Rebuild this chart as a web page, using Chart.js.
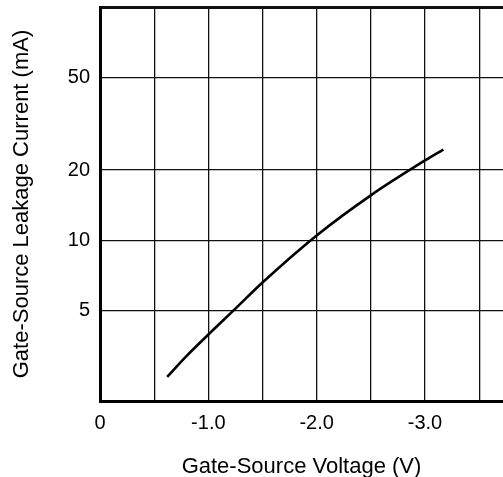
<!DOCTYPE html>
<html>
<head>
<meta charset="utf-8">
<script src="https://cdn.jsdelivr.net/npm/chart.js@4/dist/chart.umd.min.js"></script>
<style>
  html, body { margin: 0; padding: 0; background: #fff; overflow: hidden; }
  #wrap { width: 503px; height: 477px; }
</style>
</head>
<body>
<div id="wrap"><canvas id="leakChart"></canvas></div>
<script>
// gate-source voltage (V) and leakage current (mA)
const voltage = [-0.62, -0.8, -1.0, -1.25, -1.5, -2.0, -2.5, -3.0, -3.17];
const current = [2.6, 3.2, 3.95, 5.1, 6.6, 10.5, 15.6, 22.0, 24.5];

const xGridTicks = [0, -0.5, -1.0, -1.5, -2.0, -2.5, -3.0, -3.5];
const xLabelTicks = [0, -1.0, -2.0, -3.0];
const yGridTicks = [5, 10, 20, 50, 100];
const yLabelTicks = [5, 10, 20, 50];

const family = "'Liberation Sans', Arial, sans-serif";
const tickFont = { family, size: 20 };
const titleFont = { family, size: 22 };

new Chart(document.getElementById("leakChart"), {
  type: "line",
  data: {
    datasets: [
      {
        label: "Leakage",
        data: voltage.map((v, i) => ({ x: v, y: current[i] })),
        borderColor: "#000",
        borderWidth: 2.6,
        pointRadius: 0,
        cubicInterpolationMode: "monotone",
        fill: false,
      },
    ],
  },
  options: {
    responsive: true,
    maintainAspectRatio: false,
    animation: false,
    layout: { padding: { top: 7, right: 0, left: 0, bottom: 0 } },
    plugins: { legend: { display: false }, tooltip: { enabled: false } },
    scales: {
      x: {
        type: "linear",
        min: -3.72,
        max: 0,
        reverse: true,
        afterBuildTicks: s => { s.ticks = xGridTicks.map(v => ({ value: v })); },
        afterFit: s => {
          s.height = 76;
          s.paddingLeft = 0;
          s.paddingRight = 0;
        },
        ticks: {
          color: "#000",
          font: tickFont,
          padding: 10,
          maxRotation: 0,
          autoSkip: false,
          callback: v => {
            if (!xLabelTicks.includes(v)) return "";
            return v === 0 ? "0" : v.toFixed(1);
          },
        },
        grid: { color: "#111", lineWidth: 1.3, drawTicks: false },
        border: { color: "#000", width: 3 },
        title: {
          display: true,
          text: "Gate-Source Voltage (V)",
          color: "#000",
          font: titleFont,
          padding: { top: 0, bottom: -3 },
        },
      },
      y: {
        type: "logarithmic",
        min: 2.05,
        max: 100,
        afterBuildTicks: s => { s.ticks = yGridTicks.map(v => ({ value: v })); },
        afterFit: s => {
          s.width = 100;
          s.paddingTop = 0;
          s.paddingBottom = 0;
        },
        ticks: {
          color: "#000",
          font: tickFont,
          padding: 10,
          autoSkip: false,
          callback: v => (yLabelTicks.includes(v) ? String(v) : ""),
        },
        grid: {
          color: "#111",
          lineWidth: c => (c.tick && c.tick.value === 100 ? 3 : 1.3),
          drawTicks: false,
        },
        border: { color: "#000", width: 3 },
        title: {
          display: true,
          text: "Gate-Source Leakage Current (mA)",
          color: "#000",
          font: titleFont,
          padding: { top: 9, bottom: 0 },
        },
      },
    },
  },
});
</script>
</body>
</html>
